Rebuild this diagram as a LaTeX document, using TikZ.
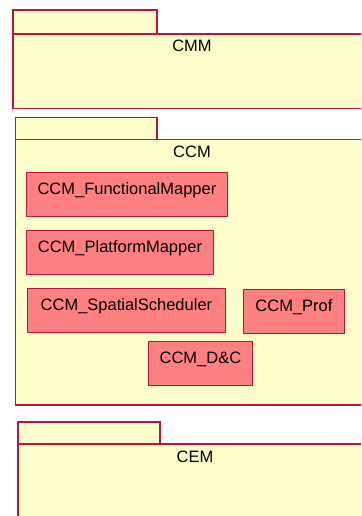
\documentclass[tikz,border=0pt]{standalone}
\usepackage{fontspec}
\setmainfont{Liberation Sans}
\usetikzlibrary{positioning}
\definecolor{pkgfill}{HTML}{FFFFCC}
\definecolor{pkgline}{HTML}{B8163C}
\definecolor{compfill}{HTML}{FF8080}
\begin{document}
\begin{tikzpicture}[x=1pt,y=-1pt,
						pkg/.style={fill=pkgfill,draw=pkgline,line width=1.2pt},
						pkgname/.style={anchor=base,inner sep=0pt,font=\fontsize{16.5}{20}\selectfont},
						comp/.style={anchor=north west,fill=compfill,draw=pkgline,line width=0.9pt,inner xsep=0pt,inner ysep=10pt,text height=12pt,text depth=12pt,font=\fontsize{16.5}{20}\selectfont}]
		\useasboundingbox (0,0) rectangle (361,516);
		\clip (0,0) rectangle (361,516);

		% CMM
		\draw[pkg] (13,10) rectangle (157,34);
		\draw[pkg] (13,34) rectangle (380,108.5);
		\node[pkgname]	(cmm)	at (192,52)	{CMM};

		% CCM
		\draw[pkg] (15.5,117.5) rectangle (157,139.5);
		\draw[pkg] (15.5,139.5) rectangle (380,405);
		\node[pkgname]	(ccm)	at (192,157.5)	{CCM};

		\node[comp,minimum width=201pt]	(func)	at (26,172)	{CCM\_FunctionalMapper};
		\node[comp,minimum width=187pt]	(plat)	at (26,230)	{CCM\_PlatformMapper};
		\node[comp,minimum width=198pt]	(spat)	at (27,288)	{CCM\_SpatialScheduler};
		\node[comp,minimum width=101pt]	(prof)	at (243,289)	{CCM\_Prof};
		\node[comp,minimum width=104pt]	(dc)	at (148,341)	{CCM\_D\&C};

		% CEM
		\draw[pkg] (18,422) rectangle (160,444);
		\draw[pkg] (18,444) rectangle (380,540);
		\node[pkgname]	(cem)	at (195,462)	{CEM};
	\end{tikzpicture}
\end{document}
